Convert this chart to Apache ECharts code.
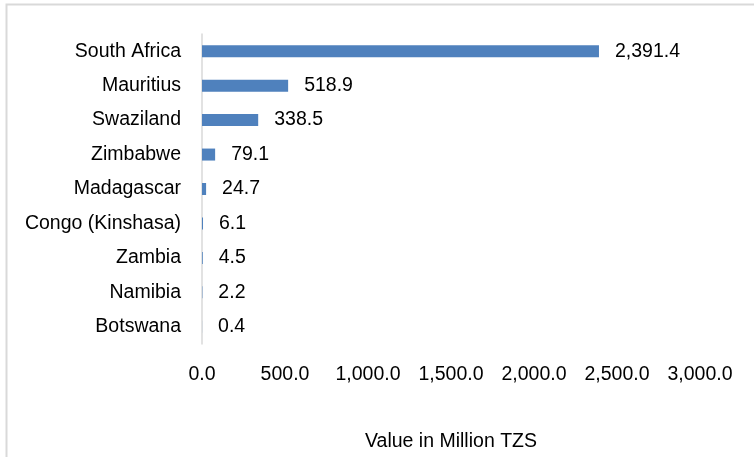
<!DOCTYPE html>
<html>
<head>
<meta charset="utf-8">
<script src="https://cdn.jsdelivr.net/npm/echarts@6/dist/echarts.min.js"></script>
<style>html,body{margin:0;padding:0;background:#fff;}#c{width:754px;height:457px;}</style>
</head>
<body>
<div id="c"></div>
<script>
var categories = ["South Africa","Mauritius","Swaziland","Zimbabwe","Madagascar","Congo (Kinshasa)","Zambia","Namibia","Botswana"];
var values = [2391.4, 518.9, 338.5, 79.1, 24.7, 6.1, 4.5, 2.2, 0.4];
var axisTitle = "Value in Million TZS";
var xMin = 0, xMax = 3000, xStep = 500;

function fmt(v){
  var s = Number(v).toFixed(1);
  var p = s.split(".");
  p[0] = p[0].replace(/\B(?=(\d{3})+(?!\d))/g, ",");
  return p.join(".");
}
var FONT = "'Liberation Sans',Arial,sans-serif";
var FS = 19.5;
var chart = echarts.init(document.getElementById('c'), null, {renderer:'canvas'});
chart.setOption({
  animation:false,
  backgroundColor:'#ffffff',
  graphic:[{type:'rect', shape:{x:6.5,y:4.5,width:900,height:600}, style:{fill:'none', stroke:'#d9d9d9', lineWidth:2}, silent:true}],
  grid:{left:202, right:54, top:34, bottom:113, containLabel:false, outerBoundsMode:'none'},
  xAxis:{
    type:'value', min:xMin, max:xMax, interval:xStep,
    axisLine:{show:false}, axisTick:{show:false}, splitLine:{show:false},
    axisLabel:{formatter:fmt, color:'#000', fontFamily:FONT, fontSize:FS, margin:21},
    name:axisTitle, nameLocation:'middle', nameGap:88,
    nameTextStyle:{color:'#000', fontFamily:FONT, fontSize:FS}
  },
  yAxis:{
    type:'category', data:categories, inverse:true,
    axisLine:{show:true, lineStyle:{color:'#d9d9d9', width:1.5}},
    axisTick:{show:false},
    axisLabel:{color:'#000', fontFamily:FONT, fontSize:FS, margin:21}
  },
  series:[{
    type:'bar', data:values, barWidth:12,
    itemStyle:{color:'#4f81bd'},
    label:{show:true, position:'right', distance:16, formatter:function(p){return fmt(p.value);}, color:'#000', fontFamily:FONT, fontSize:FS}
  }]
});
</script>
</body>
</html>
